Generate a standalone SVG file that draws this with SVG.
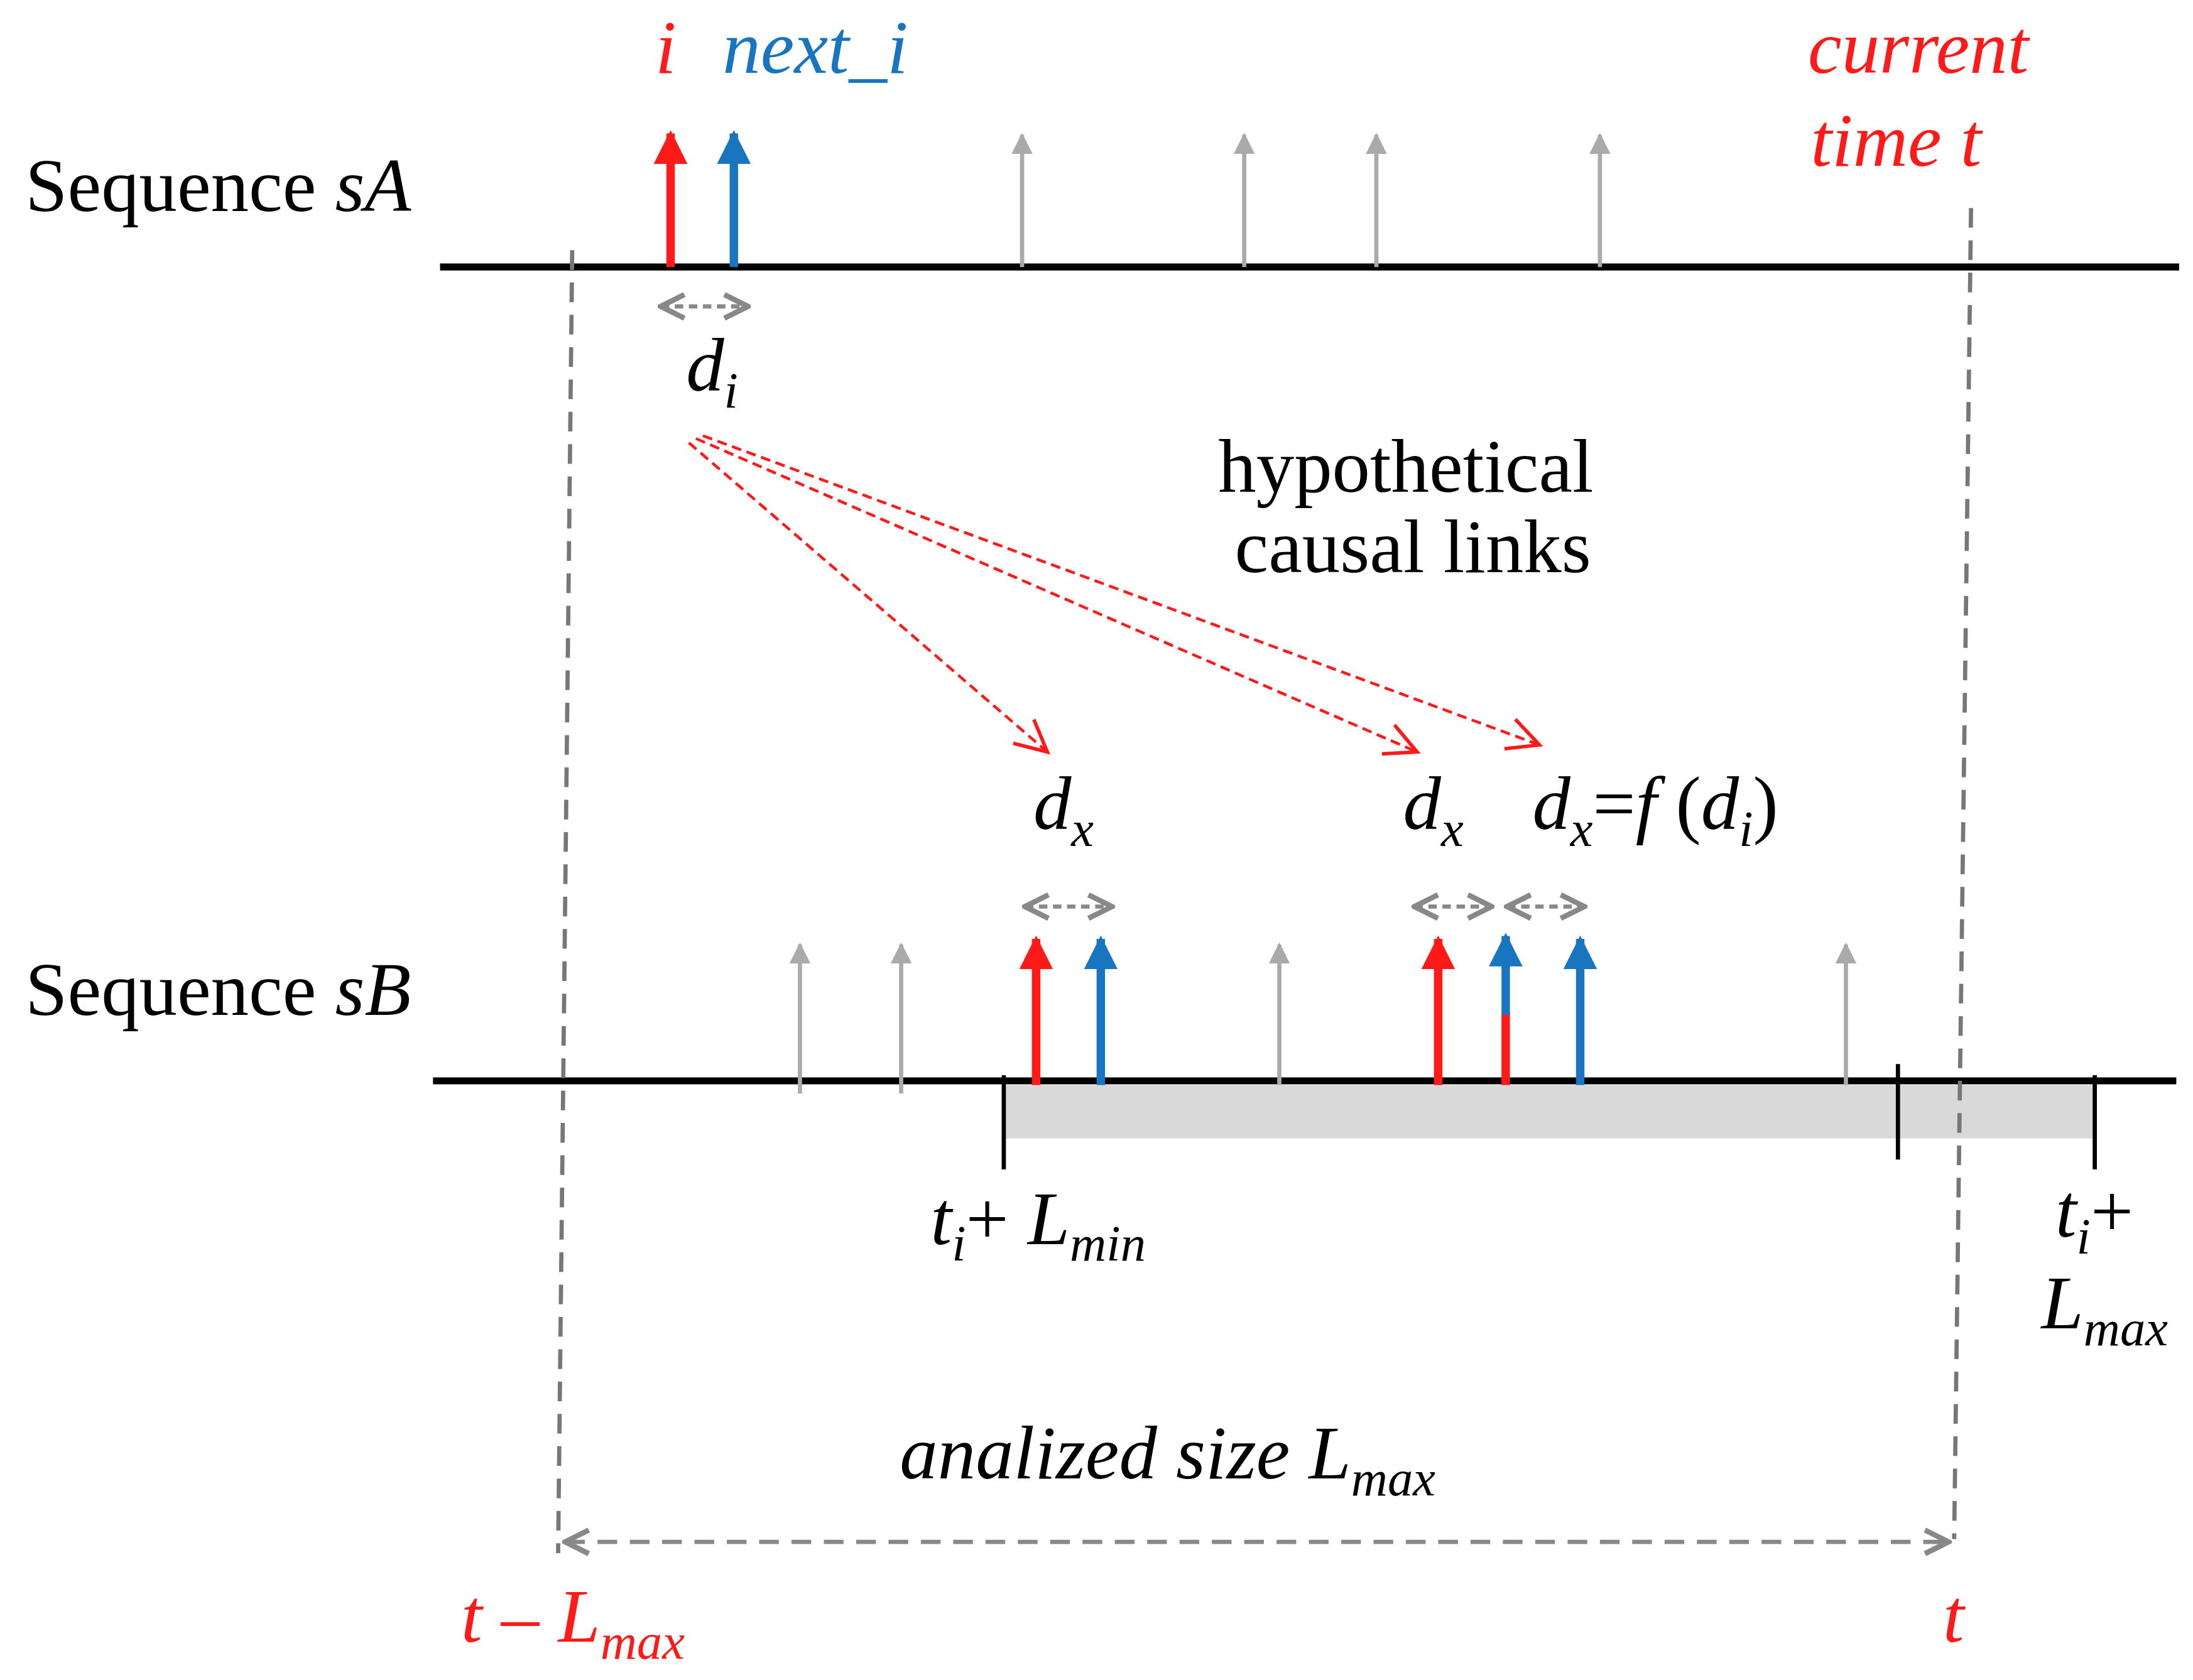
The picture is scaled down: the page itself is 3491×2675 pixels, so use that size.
<svg xmlns="http://www.w3.org/2000/svg" width="3491" height="2675" viewBox="0 0 3491 2675">
<defs>
<style>
text{font-family:"Liberation Serif","DejaVu Serif",serif;font-size:54px}
.it{font-style:italic}
.red{fill:#ff1a1a}.blue{fill:#1a75c0}
.axis{stroke:#000;stroke-width:5}
.ga{stroke:#aaa;stroke-width:3;marker-end:url(#hg)}
.ra{stroke:#ff1a1a;stroke-width:6;marker-end:url(#hr)}
.ba{stroke:#1a75c0;stroke-width:6;marker-end:url(#hb)}
.dd{stroke:#888;stroke-width:3;stroke-dasharray:6 4;fill:none;marker-start:url(#oa);marker-end:url(#oa)}
.vd{stroke:#777;stroke-width:3;stroke-dasharray:14 9;fill:none}
.rd{stroke:#ff1a1a;stroke-width:2;stroke-dasharray:7 4;fill:none;marker-end:url(#ro)}
</style>
<marker id="hg" viewBox="0 0 10 10" refX="9" refY="5" markerWidth="5" markerHeight="5" orient="auto"><path d="M0,0L10,5L0,10z" fill="#aaa"/></marker>
<marker id="hr" viewBox="0 0 10 10" refX="9" refY="5" markerWidth="4" markerHeight="4" orient="auto"><path d="M0,0L10,5L0,10z" fill="#ff1a1a"/></marker>
<marker id="hb" viewBox="0 0 10 10" refX="9" refY="5" markerWidth="4" markerHeight="4" orient="auto"><path d="M0,0L10,5L0,10z" fill="#1a75c0"/></marker>
<marker id="oa" viewBox="0 0 10 10" refX="9" refY="5" markerWidth="7" markerHeight="7" orient="auto-start-reverse"><path d="M1,1L9,5L1,9" fill="none" stroke="#888" stroke-width="1.8"/></marker>
<marker id="ro" viewBox="0 0 10 10" refX="9" refY="5" markerWidth="14" markerHeight="14" orient="auto"><path d="M1,1L9,5L1,9" fill="none" stroke="#ff1a1a" stroke-width="0.9"/></marker>
</defs>
<rect width="3491" height="2675" fill="#fff"/>
<g transform="scale(2.238)">
<g id="seqA">
<text x="18" y="150">Sequence <tspan class="it">sA</tspan></text>
<line class="axis" x1="313" y1="190" x2="1550" y2="190"/>
</g>
<g id="seqB">
<text x="18" y="722">Sequence <tspan class="it">sB</tspan></text>
<rect x="714" y="772" width="776" height="38" fill="#d9d9d9"/>
<line class="axis" x1="308" y1="769" x2="1548" y2="769"/>
<line stroke="#000" stroke-width="3" x1="714" y1="765" x2="714" y2="832"/>
<line stroke="#000" stroke-width="3" x1="1490" y1="765" x2="1490" y2="832"/>
<line stroke="#000" stroke-width="3" x1="1350" y1="757" x2="1350" y2="825"/>
</g>
<g id="labels">
<text class="it red" x="466" y="52">i</text>
<text class="it blue" x="514" y="52">next_i</text>
<text class="it red" x="1286" y="52">current</text>
<text class="it red" x="1288" y="118">time t</text>
<text class="it" x="488" y="278">d<tspan font-size="36" dy="12">i</tspan></text>
<text x="1000" y="350" text-anchor="middle">hypothetical</text>
<text x="1005" y="407" text-anchor="middle">causal links</text>
<text class="it" x="735" y="590">d<tspan font-size="36" dy="12">x</tspan></text>
<text class="it" x="998" y="590">d<tspan font-size="36" dy="12">x</tspan></text>
<text class="it" x="1090" y="590">d<tspan font-size="36" dy="12">x</tspan><tspan dy="-12" font-style="normal">=</tspan>f <tspan font-style="normal">(</tspan>d<tspan font-size="36" dy="12">i</tspan><tspan dy="-12" font-style="normal">)</tspan></text>
<text class="it" x="662" y="885">t<tspan font-size="36" dy="12">i</tspan><tspan dy="-12" font-style="normal">+ </tspan>L<tspan font-size="36" dy="12">min</tspan></text>
<text class="it" x="1462" y="880">t<tspan font-size="36" dy="12">i</tspan><tspan dy="-12" font-style="normal">+</tspan></text>
<text class="it" x="1452" y="945">L<tspan font-size="36" dy="12">max</tspan></text>
<text class="it" x="640" y="1052">analized size L<tspan font-size="36" dy="12">max</tspan></text>
<text class="it red" x="328" y="1168">t <tspan font-style="normal">–</tspan> L<tspan font-size="36" dy="12">max</tspan></text>
<text class="it red" x="1382" y="1168">t</text>
</g>
<g id="connectors">
<line class="ra" x1="477" y1="190" x2="477" y2="95"/>
<line class="ba" x1="522" y1="190" x2="522" y2="95"/>
<line class="ga" x1="727" y1="190" x2="727" y2="96"/>
<line class="ga" x1="885" y1="190" x2="885" y2="96"/>
<line class="ga" x1="979" y1="190" x2="979" y2="96"/>
<line class="ga" x1="1138" y1="190" x2="1138" y2="96"/>
<line class="dd" x1="470" y1="218" x2="532" y2="218"/>
<path class="rd" d="M490,315L745,535"/>
<path class="rd" d="M495,312L1008,535"/>
<path class="rd" d="M500,310L1095,530"/>
<line class="dd" x1="729" y1="645" x2="791" y2="645"/>
<line class="dd" x1="1006" y1="645" x2="1061" y2="645"/>
<line class="dd" x1="1072" y1="645" x2="1127" y2="645"/>
<line class="ga" x1="569" y1="778" x2="569" y2="672"/>
<line class="ga" x1="641" y1="778" x2="641" y2="672"/>
<line class="ga" x1="910" y1="772" x2="910" y2="672"/>
<line class="ga" x1="1313" y1="772" x2="1313" y2="672"/>
<line class="ra" x1="737" y1="772" x2="737" y2="668"/>
<line class="ba" x1="783" y1="772" x2="783" y2="668"/>
<line class="ra" x1="1023" y1="772" x2="1023" y2="668"/>
<line class="ba" x1="1124" y1="772" x2="1124" y2="668"/>
<line stroke="#ff1a1a" stroke-width="6" x1="1071" y1="772" x2="1071" y2="720"/>
<line class="ba" x1="1071" y1="722" x2="1071" y2="666"/>
<path class="vd" d="M407,178L397,1105"/>
<path class="vd" d="M1402,148L1390,1095"/>
<line class="dd" x1="402" y1="1097" x2="1386" y2="1097" style="stroke-dasharray:14 9"/>
</g>
</g>
</svg>
